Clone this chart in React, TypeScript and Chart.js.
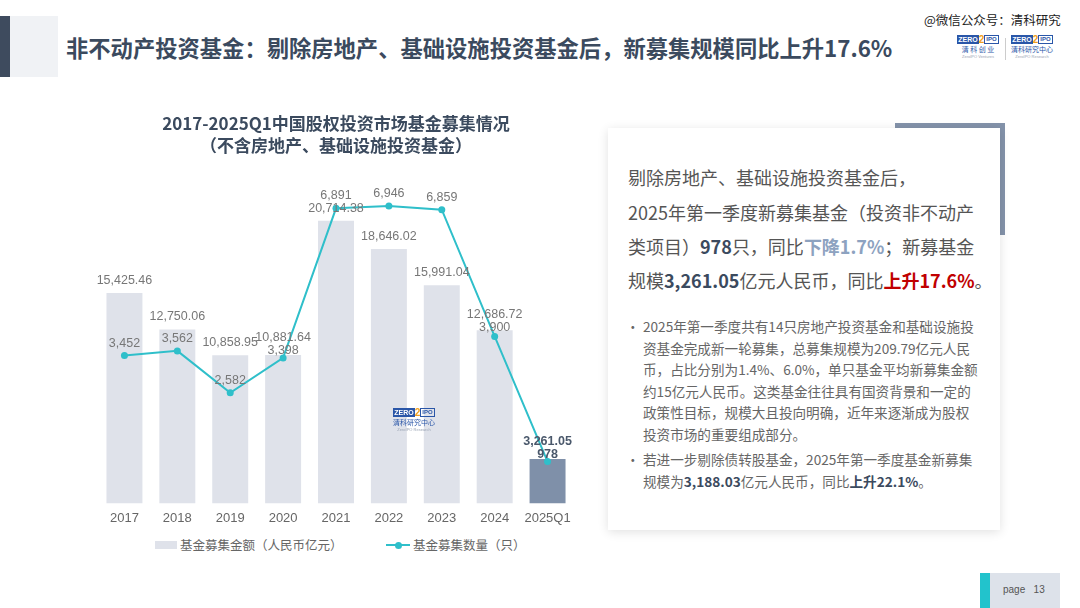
import React, { useEffect, useRef } from "react";
import { Chart, registerables } from "chart.js";

Chart.register(...registerables);

const categories = ["2017", "2018", "2019", "2020", "2021", "2022", "2023", "2024", "2025Q1"];
const amountValues = [15425.46, 12750.06, 10858.95, 10881.64, 20714.38, 18646.02, 15991.04, 12686.72, 3261.05];
const countValues = [3452, 3562, 2582, 3398, 6891, 6946, 6859, 3900, 978];
const amountLabels = ["15,425.46", "12,750.06", "10,858.95", "10,881.64", "20,714.38", "18,646.02", "15,991.04", "12,686.72", "3,261.05"];
const countLabels = ["3,452", "3,562", "2,582", "3,398", "6,891", "6,946", "6,859", "3,900", "978"];
const chartTitle = ["2017-2025Q1中国股权投资市场基金募集情况", "（不含房地产、基础设施投资基金）"];
const amountName = "基金募集金额（人民币亿元）";
const countName = "基金募集数量（只）";

const NUM_FONT = '"Liberation Sans", Arial, "Noto Sans CJK SC", sans-serif';
const CJK_FONT = '"Noto Sans CJK SC", "Liberation Sans", sans-serif';
const BAR_COLOR = "#dfe2ea";
const BAR_LAST = "#7f90a9";
const LINE_COLOR = "#2fbfca";
const DARK = "#3b4a5e";

const LABEL_OFFSET = 12.5; // label centre above the mark
const LABEL_GAP = 13; // minimum distance between two labels in one column

const labelPlugin = {
  id: "valueLabels",
  afterDatasetsDraw(chart: any) {
    const ctx = chart.ctx;
    const metas = chart.data.datasets.map((_: any, di: number) => chart.getDatasetMeta(di));
    const lineIdx = chart.data.datasets.findIndex((d: any) => d.type === "line");
    const barIdx = chart.data.datasets.findIndex((d: any) => d.type === "bar");
    ctx.save();
    ctx.textAlign = "center";
    ctx.textBaseline = "middle";
    const last = categories.length - 1;
    categories.forEach((_, i) => {
      const bEl = metas[barIdx].data[i];
      const lEl = metas[lineIdx].data[i];
      let by = bEl.y - LABEL_OFFSET;
      let ly = lEl.y - LABEL_OFFSET;
      const d = Math.abs(by - ly);
      if (d < LABEL_GAP) {
        const mid = (by + ly) / 2;
        const barAbove = by <= ly;
        by = mid + (barAbove ? -LABEL_GAP / 2 : LABEL_GAP / 2);
        ly = mid + (barAbove ? LABEL_GAP / 2 : -LABEL_GAP / 2);
      }
      const bold = i === last;
      ctx.font = `${bold ? "bold " : ""}12.5px ${NUM_FONT}`;
      ctx.fillStyle = bold ? "#4a586b" : "#777";
      ctx.fillText(amountLabels[i], bEl.x, by);
      ctx.fillText(countLabels[i], lEl.x, ly);
    });
    ctx.restore();
  },
};

function ChartBox() {
  const ref = useRef<HTMLCanvasElement>(null);
  useEffect(() => {
    const chart = new Chart(ref.current!, {
      type: "bar",
      data: {
        labels: categories,
        datasets: [
          {
            type: "line",
            label: countName,
            data: countValues,
            yAxisID: "y1",
            borderColor: LINE_COLOR,
            backgroundColor: LINE_COLOR,
            borderWidth: 2,
            pointRadius: 3.5,
            pointBackgroundColor: LINE_COLOR,
            pointBorderWidth: 0,
            tension: 0,
          } as any,
          {
            type: "bar",
            label: amountName,
            data: amountValues,
            yAxisID: "y",
            backgroundColor: amountValues.map((_, i) => (i === amountValues.length - 1 ? BAR_LAST : BAR_COLOR)),
            barPercentage: 0.68,
            categoryPercentage: 1,
          } as any,
        ],
      },
      options: {
        animation: false,
        responsive: false,
        maintainAspectRatio: false,
        layout: { padding: { left: 18, right: 6, top: 0, bottom: 0 } },
        plugins: {
          title: {
            display: true,
            text: chartTitle,
            color: DARK,
            font: { size: 17, weight: "bold", family: CJK_FONT, lineHeight: 1.3 },
            padding: { top: 12, bottom: 24 },
          },
          legend: { display: false },
          tooltip: { enabled: false },
        },
        scales: {
          x: {
            grid: { display: false, drawTicks: false },
            border: { display: false },
            ticks: { color: "#666", font: { size: 13, family: NUM_FONT }, padding: 7 },
          },
          y: { display: false, min: 0, max: 23690 },
          y1: { display: false, min: 0, max: 7548, position: "right" },
        },
      },
      plugins: [labelPlugin],
    } as any);
    return () => chart.destroy();
  }, []);
  return <canvas ref={ref} width={500} height={433} style={{ position: "absolute", left: 80, top: 100, width: 500, height: 433 }} />;
}

function Logo({ x, y, sub, sub2 }: { x: number; y: number; sub: string; sub2: string }) {
  return (
    <div style={{ position: "absolute", left: x, top: y, width: 48, textAlign: "center", fontFamily: NUM_FONT }}>
      <div style={{ display: "flex", justifyContent: "center", alignItems: "center", height: 9 }}>
        <span style={{ background: "#2a56a8", color: "#fff", fontSize: 7, lineHeight: "9px", padding: "0 1px", fontWeight: "bold" }}>ZERO</span>
        <span style={{ color: "#f0a020", fontSize: 10, lineHeight: "9px", fontWeight: "bold" }}>2</span>
        <span style={{ border: "1px solid #2a56a8", color: "#2a56a8", fontSize: 6, lineHeight: "7px", padding: "0 1px", fontWeight: "bold" }}>IPO</span>
      </div>
      <div style={{ color: "#2a56a8", fontSize: 7, lineHeight: "10px", fontFamily: CJK_FONT, whiteSpace: "nowrap" }}>{sub}</div>
      <div style={{ color: "#9aa4b4", fontSize: 4, lineHeight: "5px", whiteSpace: "nowrap" }}>{sub2}</div>
    </div>
  );
}

export default function App() {
  useEffect(() => {
    document.body.style.margin = "0";
  }, []);
  const cardText: React.CSSProperties = { position: "absolute", left: 628, fontSize: 18, color: "#555", fontFamily: CJK_FONT, whiteSpace: "nowrap", lineHeight: "24px" };
  const bulletLine: React.CSSProperties = { whiteSpace: "nowrap", height: 21.5, lineHeight: "21.5px" };
  const legendText: React.CSSProperties = { position: "absolute", top: 537, fontSize: 12.5, color: "#666", whiteSpace: "nowrap", lineHeight: "16px" };
  return (
    <div style={{ position: "fixed", left: 0, top: 0, width: 1080, height: 608, background: "#fff", overflow: "hidden", fontFamily: CJK_FONT }}>
      {/* header */}
      <div style={{ position: "absolute", left: 0, top: 16, width: 10, height: 61, background: "#3e4b5e" }} />
      <div style={{ position: "absolute", left: 10, top: 16, width: 48, height: 61, background: "#f0f2f5" }} />
      <div style={{ position: "absolute", left: 66, top: 32, fontSize: 22.3, fontWeight: "bold", color: DARK, whiteSpace: "nowrap", lineHeight: "30px" }}>
        非不动产投资基金：剔除房地产、基础设施投资基金后，新募集规模同比上升17.6%
      </div>
      <div style={{ position: "absolute", left: 924, top: 12, fontSize: 12.5, color: "#222", whiteSpace: "nowrap", lineHeight: "16px" }}>@微信公众号：清科研究</div>
      <Logo x={954} y={35} sub="清 科 创 业" sub2="ZeroIPO Ventures" />
      <div style={{ position: "absolute", left: 1005, top: 38, width: 1, height: 22, background: "#ccc" }} />
      <Logo x={1008} y={35} sub="清科研究中心" sub2="ZeroIPO Research" />

      {/* chart */}
      <ChartBox />
      <div style={{ position: "absolute", left: 390, top: 408 }}>
        <Logo x={0} y={0} sub="清科研究中心" sub2="ZeroIPO Research" />
      </div>
      {/* legend */}
      <div style={{ position: "absolute", left: 155, top: 541, width: 22, height: 8, background: BAR_COLOR }} />
      <div style={{ ...legendText, left: 180 }}>{amountName}</div>
      <div style={{ position: "absolute", left: 386, top: 544, width: 24, height: 2, background: LINE_COLOR }} />
      <div style={{ position: "absolute", left: 394.5, top: 541.5, width: 7, height: 7, borderRadius: "50%", background: LINE_COLOR }} />
      <div style={{ ...legendText, left: 413 }}>{countName}</div>

      {/* card */}
      <div style={{ position: "absolute", left: 895, top: 123, width: 110, height: 5, background: "#8493aa" }} />
      <div style={{ position: "absolute", left: 1000, top: 123, width: 5, height: 112, background: "#8493aa" }} />
      <div style={{ position: "absolute", left: 608, top: 128, width: 392, height: 402, background: "#fff", boxShadow: "0 2px 10px rgba(0,0,0,0.12)" }} />
      <div style={{ ...cardText, top: 165 }}>剔除房地产、基础设施投资基金后，</div>
      <div style={{ ...cardText, top: 200 }}>2025年第一季度新募集基金（投资非不动产</div>
      <div style={{ ...cardText, top: 234 }}>
        类项目）<b style={{ color: DARK }}>978</b>只，同比<b style={{ color: "#8da2c0" }}>下降1.7%</b>；新募基金
      </div>
      <div style={{ ...cardText, top: 268 }}>
        规模<b style={{ color: DARK }}>3,261.05</b>亿元人民币，同比<b style={{ color: "#c00000" }}>上升17.6%</b>。
      </div>
      <div style={{ position: "absolute", left: 626, top: 316, fontSize: 13.6, color: "#666" }}>
        <div style={{ position: "relative", paddingLeft: 17 }}>
          <span style={{ position: "absolute", left: 0, top: 0, lineHeight: "21.5px" }}>•</span>
          <div style={bulletLine}>2025年第一季度共有14只房地产投资基金和基础设施投</div>
          <div style={bulletLine}>资基金完成新一轮募集，总募集规模为209.79亿元人民</div>
          <div style={bulletLine}>币，占比分别为1.4%、6.0%，单只基金平均新募集金额</div>
          <div style={bulletLine}>约15亿元人民币。这类基金往往具有国资背景和一定的</div>
          <div style={bulletLine}>政策性目标，规模大且投向明确，近年来逐渐成为股权</div>
          <div style={bulletLine}>投资市场的重要组成部分。</div>
        </div>
        <div style={{ position: "relative", paddingLeft: 17, marginTop: 4 }}>
          <span style={{ position: "absolute", left: 0, top: 0, lineHeight: "21.5px" }}>•</span>
          <div style={bulletLine}>若进一步剔除债转股基金，2025年第一季度基金新募集</div>
          <div style={bulletLine}>
            规模为<b style={{ color: DARK }}>3,188.03</b>亿元人民币，同比<b style={{ color: DARK }}>上升22.1%</b>。
          </div>
        </div>
      </div>

      {/* page footer */}
      <div style={{ position: "absolute", left: 980, top: 573, width: 80, height: 35, background: "#dde2ea" }} />
      <div style={{ position: "absolute", left: 980, top: 573, width: 10, height: 35, background: "#22c3cc" }} />
      <div style={{ position: "absolute", left: 1003, top: 583, fontSize: 10, color: "#555", fontFamily: NUM_FONT, whiteSpace: "nowrap", lineHeight: "14px" }}>
        page&nbsp;&nbsp;&nbsp;13
      </div>
    </div>
  );
}
